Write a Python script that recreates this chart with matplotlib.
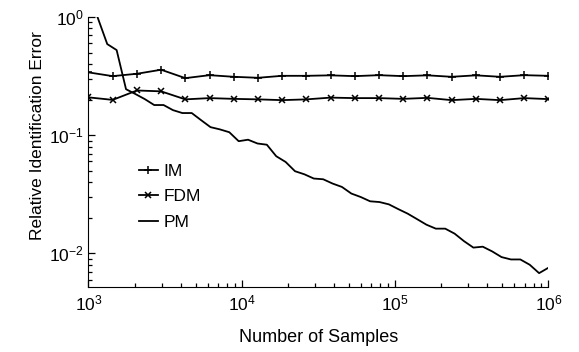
import numpy as np
import matplotlib
matplotlib.use('Agg')
import matplotlib.pyplot as plt

plt.rcParams['font.family'] = ['Liberation Sans', 'DejaVu Sans']
plt.rcParams['mathtext.fontset'] = 'custom'
plt.rcParams['mathtext.rm'] = 'Liberation Sans'
plt.rcParams['mathtext.it'] = 'Liberation Sans'
plt.rcParams['mathtext.default'] = 'regular'

# sample counts
n_markers = np.logspace(3, 6, 20)
n_pm = np.logspace(3, 6, 50)

im_err = [0.340, 0.316, 0.331, 0.358, 0.304, 0.322, 0.312, 0.306, 0.318, 0.318,
          0.321, 0.316, 0.322, 0.316, 0.321, 0.312, 0.321, 0.312, 0.322, 0.318]
fdm_err = [0.209, 0.199, 0.239, 0.235, 0.201, 0.206, 0.203, 0.201, 0.198, 0.201,
           0.208, 0.206, 0.206, 0.203, 0.207, 0.198, 0.203, 0.198, 0.206, 0.202]
pm_err = [1.6, 0.98, 0.590, 0.525, 0.245, 0.223, 0.202, 0.180, 0.180, 0.163,
          0.154, 0.154, 0.134, 0.117, 0.112, 0.106, 0.0890, 0.0916, 0.0851, 0.0831,
          0.0664, 0.0594, 0.0496, 0.0467, 0.0430, 0.0424, 0.0390, 0.0365, 0.0321, 0.0300,
          0.0276, 0.0272, 0.0260, 0.0237, 0.0217, 0.0195, 0.0175, 0.0162, 0.0162, 0.0147,
          0.0127, 0.0112, 0.0114, 0.0104, 0.00931, 0.00889, 0.00889, 0.00802, 0.00681, 0.00757]

fig = plt.figure(figsize=(5.79, 3.52), dpi=100)
ax = fig.add_axes([0.1528, 0.1847, 0.7945, 0.767])

ax.loglog(n_markers, im_err, '-', color='black', lw=1.3, marker='+', ms=6, mew=1.1, label='IM')
ax.loglog(n_markers, fdm_err, '-', color='black', lw=1.3, marker='x', ms=4, mew=1.1, label='FDM')
ax.loglog(n_pm, pm_err, '-', color='black', lw=1.3, label='PM')

ax.set_xlim(1e3, 1e6)
ax.set_ylim(0.0052, 1)

for s in ['top', 'right']:
    ax.spines[s].set_visible(False)
ax.tick_params(which='both', direction='in', labelsize=12.5, width=0.9)
ax.tick_params(which='major', length=5)
ax.tick_params(which='minor', length=3)
ax.tick_params(axis='x', pad=5)

ax.set_xlabel('Number of Samples', fontsize=13, labelpad=11)
ax.set_ylabel('Relative Identification Error', fontsize=12.5)
ax.yaxis.set_label_coords(-0.095, 0.56)

ax.legend(loc='upper left', bbox_to_anchor=(0.075, 0.515), frameon=False,
          fontsize=12.5, handlelength=1.1, handletextpad=0.35, labelspacing=0.6)

fig.savefig('out.png', dpi=100)
